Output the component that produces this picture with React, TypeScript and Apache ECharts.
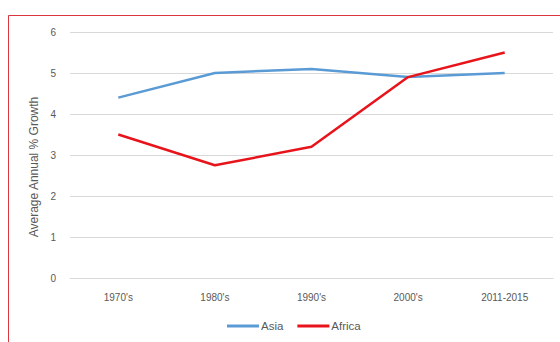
import React, { useEffect, useRef } from "react";
import * as echarts from "echarts";

const categories = ["1970's", "1980's", "1990's", "2000's", "2011-2015"];
const asia = [4.4, 5.0, 5.1, 4.9, 5.0];
const africa = [3.5, 2.75, 3.2, 4.9, 5.5];
const yTicks = { min: 0, max: 6, interval: 1 };

export default function App() {
  const ref = useRef<HTMLDivElement>(null);
  useEffect(() => {
    if (!ref.current) return;
    const chart = echarts.init(ref.current, undefined, { renderer: "svg" });
    const font = "'Liberation Sans', Arial, sans-serif";
    chart.setOption({
      animation: false,
      backgroundColor: "#ffffff",
      textStyle: { fontFamily: font },
      graphic: [
        {
          type: "rect",
          shape: { x: 8.5, y: 15.5, width: 600, height: 400 },
          style: { fill: "none", stroke: "#d9363e", lineWidth: 1 },
          silent: true,
        },
      ],
      grid: { left: 70, right: 7, top: 32, bottom: 64 },
      legend: {
        bottom: 5,
        left: 222,
        itemWidth: 32,
        itemHeight: 3,
        itemGap: 14,
        icon: "rect",
        textStyle: { color: "#595959", fontSize: 11.5, padding: [0, 0, 0, -3] },
        data: ["Asia", "Africa"],
      },
      xAxis: {
        type: "category",
        data: categories,
        boundaryGap: true,
        axisLine: { show: true, lineStyle: { color: "#d9d9d9" } },
        axisTick: { show: false },
        axisLabel: { color: "#595959", fontSize: 10, margin: 14 },
      },
      yAxis: {
        type: "value",
        min: yTicks.min,
        max: yTicks.max,
        interval: yTicks.interval,
        name: "Average Annual % Growth",
        nameLocation: "middle",
        nameGap: 27,
        nameTextStyle: { color: "#595959", fontSize: 12, padding: [0, 24, 0, 0] },
        axisLine: { show: false },
        axisTick: { show: false },
        axisLabel: { color: "#595959", fontSize: 10, margin: 14 },
        splitLine: { lineStyle: { color: "#d9d9d9" } },
      },
      series: [
        {
          name: "Asia",
          type: "line",
          data: asia,
          symbol: "none",
          lineStyle: { color: "#5b9bd5", width: 2.5 },
          itemStyle: { color: "#5b9bd5" },
        },
        {
          name: "Africa",
          type: "line",
          data: africa,
          symbol: "none",
          lineStyle: { color: "#e8141b", width: 2.5 },
          itemStyle: { color: "#e8141b" },
        },
      ],
    });
    return () => chart.dispose();
  }, []);
  return (
    <div
      ref={ref}
      style={{ position: "fixed", left: 0, top: 0, width: 560, height: 342 }}
    />
  );
}
